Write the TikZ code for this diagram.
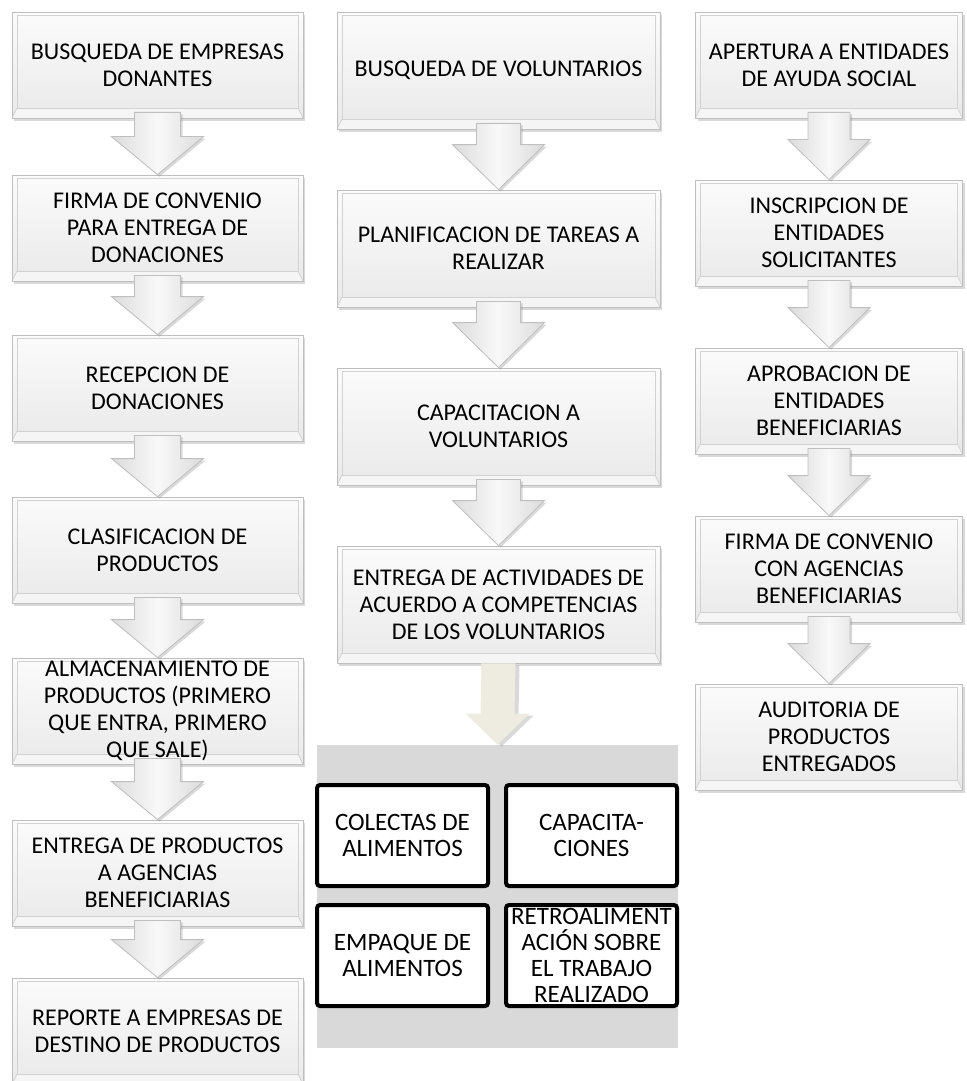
\documentclass[tikz,border=0pt]{standalone}
\usepackage{fontspec}
\setmainfont{Carlito}
\usetikzlibrary{calc,shadows}

\definecolor{arena}{HTML}{EEECE1}

\tikzset{
    paso/.style={rectangle, draw=gray!50, top color=gray!3, bottom color=gray!17,
        align=center, inner xsep=2pt, inner ysep=0pt,
        font=\fontsize{12}{13.4}\selectfont,
        drop shadow={shadow xshift=1pt, shadow yshift=-1.5pt, opacity=.3},
        path picture={
            % Bisel inferior y marco interior
            \fill[white, opacity=.55] (path picture bounding box.south west) -- (path picture bounding box.south east)
                -- ([shift={(-5,10)}]path picture bounding box.south east) -- ([shift={(5,10)}]path picture bounding box.south west) -- cycle;
            \draw[gray!35] ([shift={(5,10)}]path picture bounding box.south west) rectangle ([shift={(-5,-3)}]path picture bounding box.north east);
            \draw[gray!35] (path picture bounding box.south west) -- ++(5,10) (path picture bounding box.south east) -- ++(-5,10);
        }},
    pasoizq/.style={paso, minimum width=145.5pt, minimum height=53pt},
    pasocen/.style={paso, minimum width=161.5pt, minimum height=58.5pt},
    pasoder/.style={paso, minimum width=133.5pt, minimum height=53pt},
    flecha/.style={draw=gray!50, left color=gray!28, right color=gray!28, middle color=gray!5,
        drop shadow={shadow xshift=1pt, shadow yshift=-1pt, opacity=.3}},
    flechaarena/.style={fill=arena, drop shadow={shadow xshift=2pt, shadow yshift=-1pt, opacity=.3}},
    fondo/.style={rectangle, fill=black!15, inner sep=0pt},
    actividad/.style={rectangle, draw=black, line width=2pt, fill=white, rounded corners=1.5pt,
        align=center, inner sep=1pt, minimum width=85.5pt, minimum height=50.5pt,
        font=\fontsize{12.5}{13}\selectfont},
}

\begin{document}
\begin{tikzpicture}[x=0.5pt, y=0.5pt]
    \useasboundingbox (0,0) rectangle (966,-1081);

    % Columna izquierda: donaciones
    \node[pasoizq] (l1) at (157.5,-65) {BUSQUEDA DE EMPRESAS\\DONANTES};
    \node[pasoizq] (l2) at (157.5,-228) {FIRMA DE CONVENIO\\PARA ENTREGA DE\\DONACIONES};
    \node[pasoizq] (l3) at (157.5,-388) {RECEPCION DE\\DONACIONES};
    \node[pasoizq] (l4) at (157.5,-550) {CLASIFICACION DE\\PRODUCTOS};
    \node[pasoizq] (l5) at (157.5,-711) {ALMACENAMIENTO DE\\PRODUCTOS (PRIMERO\\QUE ENTRA, PRIMERO\\QUE SALE)};
    \node[pasoizq] (l6) at (157.5,-873) {ENTREGA DE PRODUCTOS\\A AGENCIAS\\BENEFICIARIAS};
    \node[pasoizq] (l7) at (157.5,-1031) {REPORTE A EMPRESAS DE\\DESTINO DE PRODUCTOS};

    % Columna central: voluntarios
    \node[pasocen] (m1) at (498.5,-70.5) {BUSQUEDA DE VOLUNTARIOS};
    \node[pasocen] (m2) at (498.5,-248.5) {PLANIFICACION DE TAREAS A\\REALIZAR};
    \node[pasocen] (m3) at (498.5,-426.5) {CAPACITACION A\\VOLUNTARIOS};
    \node[pasocen] (m4) at (498.5,-604.5) {ENTREGA DE ACTIVIDADES DE\\ACUERDO A COMPETENCIAS\\DE LOS VOLUNTARIOS};

    % Columna derecha: entidades
    \node[pasoder] (r1) at (829,-65) {APERTURA A ENTIDADES\\DE AYUDA SOCIAL};
    \node[pasoder] (r2) at (829,-233) {INSCRIPCION DE\\ENTIDADES\\SOLICITANTES};
    \node[pasoder] (r3) at (829,-401) {APROBACION DE\\ENTIDADES\\BENEFICIARIAS};
    \node[pasoder] (r4) at (829,-569) {FIRMA DE CONVENIO\\CON AGENCIAS\\BENEFICIARIAS};
    \node[pasoder] (r5) at (829,-737) {AUDITORIA DE\\PRODUCTOS\\ENTREGADOS};

    % Flechas entre pasos (origen/destino/medio tallo/media punta/largo punta)
    \foreach \a/\b/\s/\h/\l in {l1/l2/23/46/38, l2/l3/23/46/38, l3/l4/23/46/38, l4/l5/23/46/38,
                                l5/l6/23/46/38, l6/l7/23/46/38,
                                m1/m2/22/46/45, m2/m3/22/46/45, m3/m4/22/46/45,
                                r1/r2/21/41/40, r2/r3/21/41/40, r3/r4/21/41/40, r4/r5/21/41/40} {
        \path[flecha] ($(\a.south)+(-\s,6)$) -- ($(\b.north)+(-\s,\l)$) -- ($(\b.north)+(-\h,\l)$)
            -- (\b.north) -- ($(\b.north)+(\h,\l)$) -- ($(\b.north)+(\s,\l)$) -- ($(\a.south)+(\s,6)$) -- cycle;
    }

    % Grupo de actividades de los voluntarios
    \node[fondo, minimum width=180.5pt, minimum height=151.5pt] (grupo) at (497.5,-896.5) {};
    \node[actividad] (colectas) at (402.5,-835.5) {COLECTAS DE\\ALIMENTOS};
    \node[actividad] (capacita) at (591.5,-835.5) {CAPACITA-\\CIONES};
    \node[actividad] (empaque) at (402.5,-955.5) {EMPAQUE DE\\ALIMENTOS};
    \node[actividad] (retro) at (591.5,-955.5) {RETROALIMENT\\ACIÓN SOBRE\\EL TRABAJO\\REALIZADO};

    % Flecha hacia el grupo
    \path[flechaarena] ($(m4.south)+(-17,0)$) -- ($(grupo.north)+(-17,31)$) -- ($(grupo.north)+(-32,31)$)
        -- (grupo.north) -- ($(grupo.north)+(32,31)$) -- ($(grupo.north)+(17,31)$) -- ($(m4.south)+(17,0)$) -- cycle;
\end{tikzpicture}
\end{document}
